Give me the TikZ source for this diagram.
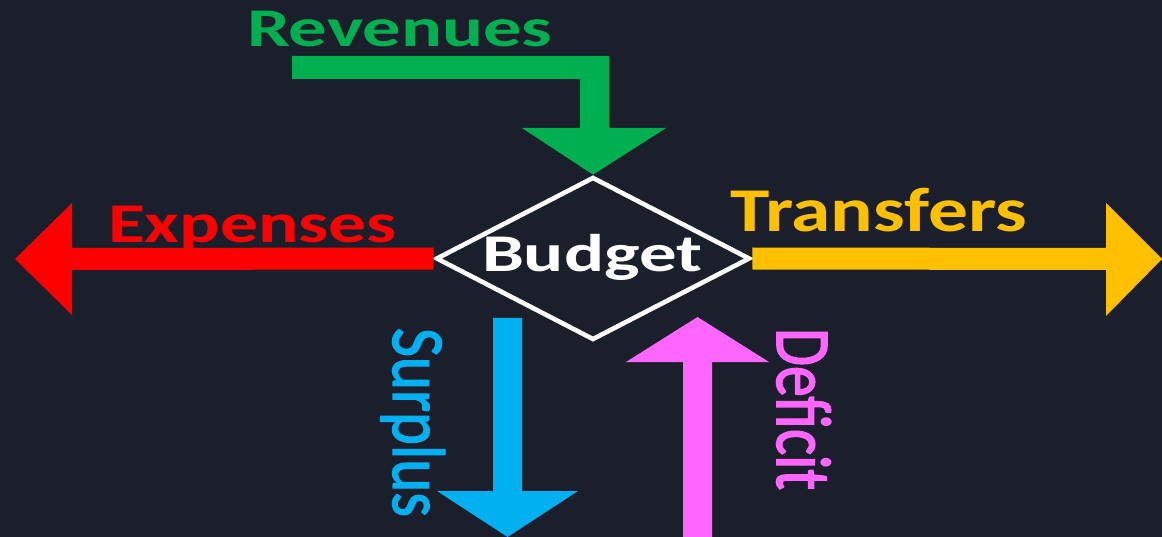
\documentclass[tikz,border=0pt]{standalone}
\usepackage{fontspec}
\setmainfont{Carlito}
\newfontfamily\semibold[FakeBold=2]{Carlito}
\usetikzlibrary{shapes.geometric,calc}
\definecolor{bg}{HTML}{1B1F2B}
\definecolor{revgreen}{HTML}{00B050}
\definecolor{expred}{HTML}{FF0000}
\definecolor{trfyellow}{HTML}{FFC000}
\definecolor{surblue}{HTML}{00B0F0}
\definecolor{defpink}{HTML}{FF66FF}
\newcommand\fitlabel[3]{\resizebox{#1pt}{#2pt}{\smash{#3}\vphantom{E}}}
\begin{document}
\begin{tikzpicture}[x=1pt,y=-1pt,
  lbl/.style={inner sep=0pt, outer sep=0pt, anchor=base west},
  decision/.style={shape=diamond, draw=white, line width=4.6pt, inner sep=0pt,
    minimum width=314pt, minimum height=163pt}]
\fill[bg] (0,0) rectangle (1162,537);
\useasboundingbox (0,0) rectangle (1162,537);

% central decision diamond
\node[decision] (budget) at (593,258.5) {};
\node[lbl, text=white] (budgetlbl) at (482,272) {\fitlabel{220}{34}{\bfseries Budget}};

% arrow tips / ends
\coordinate (exptip) at (15,259);
\coordinate (trftip) at (1162,259);
\coordinate (surtip) at (507.5,537);
\coordinate (deftip) at (697.5,317);

% Revenues (bent arrow into the diamond)
\fill[revgreen] (292,56) -- (609,56) -- (609,128) -- (666,128) -- (budget.north)
  -- (522,128) -- (580,128) -- (580,79) -- (292,79) -- cycle;
\node[lbl, text=revgreen] (revlbl) at (247,47) {\fitlabel{305}{35}{\bfseries Revenues}};

% Expenses (left)
\fill[expred] ($(budget.west)+(0,-11)$) -- (72,248) -- (72,203) -- (exptip)
  -- (72,315) -- (72,270) -- ($(budget.west)+(0,11)$) -- cycle;
\node[lbl, text=expred] (explbl) at (108,243) {\fitlabel{289}{36}{\bfseries Expenses}};

% Transfers (right)
\fill[trfyellow] ($(budget.east)+(0,-11)$) -- (1106,248) -- (1106,203) -- (trftip)
  -- (1106,316) -- (1106,270) -- ($(budget.east)+(0,11)$) -- cycle;
\node[lbl, text=trfyellow] (trflbl) at (730,232) {\fitlabel{297}{40}{\bfseries Transfers}};

% Surplus (down)
\fill[surblue] (493,318) -- (522,318) -- (522,491) -- (578,491) -- (surtip)
  -- (437,491) -- (493,491) -- cycle;
\node[lbl, text=surblue, rotate=-90] (surlbl) at (393,328) {\fitlabel{189}{48}{\semibold Surplus}};

% Deficit (up)
\fill[defpink] (683,537) -- (712,537) -- (712,362) -- (769,362) -- (deftip)
  -- (626,362) -- (683,362) -- cycle;
\node[lbl, text=defpink, rotate=-90] (deflbl) at (777,328) {\fitlabel{162}{50}{\semibold Deficit}};
\end{tikzpicture}
\end{document}
